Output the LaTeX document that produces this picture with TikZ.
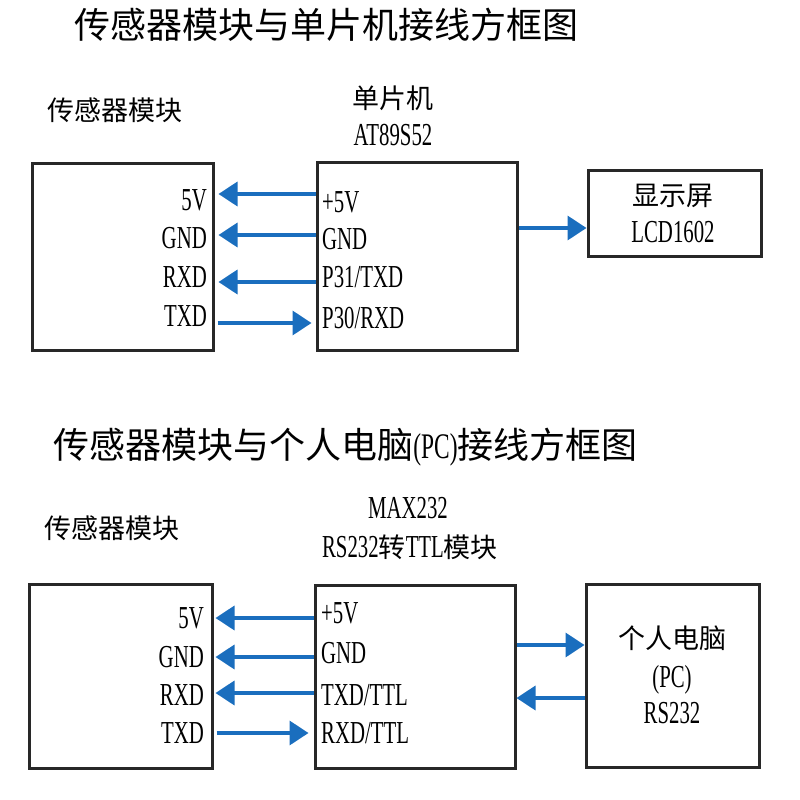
\documentclass[tikz,border=0pt]{standalone}
\usepackage{fontspec}
\setmainfont[FakeStretch=0.65]{Liberation Serif}
\newfontfamily\cjk{Noto Sans CJK SC}
\usetikzlibrary{arrows.meta}
\definecolor{arrblue}{RGB}{26,110,190}
\definecolor{boxgray}{RGB}{40,40,40}
\newcommand\latxt[1]{{\rmfamily\fontsize{32}{32}\selectfont #1}}
\begin{document}
\begin{tikzpicture}[x=1pt,y=-1pt,
  box/.style={draw=boxgray, line width=3pt, inner sep=0pt},
  lat/.style={font=\fontsize{32}{32}\selectfont, inner sep=0pt, text height=21.2pt, text depth=0pt},
  ch/.style={font=\cjk\fontsize{27}{27}\selectfont, inner sep=0pt, text height=23.8pt, text depth=3.2pt},
  ttl/.style={font=\cjk\fontsize{36}{36}\selectfont, inner sep=0pt, text height=31.7pt, text depth=4.3pt},
  arr/.style={draw=arrblue, line width=3.5pt, -{Triangle[length=19pt,width=24pt]}}]
\useasboundingbox (0,0) rectangle (800,800);
\fill[white] (0,0) rectangle (800,800);

% ---------- top diagram ----------
\node[ttl] (t1) at (326.5,25) {传感器模块与单片机接线方框图};
\node[ch] (sl1) at (115,110) {传感器模块};
\node[ch] (mt1) at (393,98) {单片机};
\node[lat] (mt2) at (393,135) {AT89S52};

\node[box, minimum width=181pt, minimum height=187pt] (sen1) at (122.5,256.5) {};
\node[box, minimum width=200pt, minimum height=188pt] (mcu) at (417,256) {};
\node[box, minimum width=173pt, minimum height=86pt] (lcd) at (674.5,213) {};

\node[lat, anchor=east] (s1a) at (207,200) {5V};
\node[lat, anchor=east] (s1b) at (207,238) {GND};
\node[lat, anchor=east] (s1c) at (207,277) {RXD};
\node[lat, anchor=east] (s1d) at (207,316) {TXD};

\node[lat, anchor=west] (m1a) at (322,202) {+5V};
\node[lat, anchor=west] (m1b) at (322,239) {GND};
\node[lat, anchor=west] (m1c) at (322,277) {P31/TXD};
\node[lat, anchor=west] (m1d) at (322,318) {P30/RXD};

\node[ch] (lcdt1) at (673,195) {显示屏};
\node[lat] (lcdt2) at (673,232) {LCD1602};

\coordinate (ya) at (0,194);
\coordinate (yb) at (0,235);
\coordinate (yc) at (0,282);
\coordinate (yd) at (0,323);
\coordinate (ye) at (0,228);

\draw[arr, shorten >=4pt] (mcu.west |- ya) -- (sen1.east |- ya);
\draw[arr, shorten >=4pt] (mcu.west |- yb) -- (sen1.east |- yb);
\draw[arr, shorten >=4pt] (mcu.west |- yc) -- (sen1.east |- yc);
\draw[arr, shorten >=4pt, shorten <=3pt] (sen1.east |- yd) -- (mcu.west |- yd);
\draw[arr] (mcu.east |- ye) -- (lcd.west |- ye);

% ---------- bottom diagram ----------
\node[ttl] (t2) at (345.5,445) {传感器模块与个人电脑{\rmfamily\fontsize{36}{36}\selectfont(PC)}接线方框图};
\node[ch] (sl2) at (112,528) {传感器模块};
\node[lat] (xt1) at (408,508) {MAX232};
\node[ch] (xt2) at (410,547) {\latxt{RS232}转\latxt{TTL}模块};

\node[box, minimum width=183pt, minimum height=184pt] (sen2) at (120.5,676) {};
\node[box, minimum width=200pt, minimum height=183pt] (max) at (415,676.5) {};
\node[box, minimum width=173pt, minimum height=183pt] (pc) at (672.5,675.5) {};

\node[lat, anchor=east] (s2a) at (204,618) {5V};
\node[lat, anchor=east] (s2b) at (204,657) {GND};
\node[lat, anchor=east] (s2c) at (204,695) {RXD};
\node[lat, anchor=east] (s2d) at (204,733) {TXD};

\node[lat, anchor=west] (x2a) at (321,613) {+5V};
\node[lat, anchor=west] (x2b) at (321,653) {GND};
\node[lat, anchor=west] (x2c) at (321,695) {TXD/TTL};
\node[lat, anchor=west] (x2d) at (321,733) {RXD/TTL};

\node[ch] (pct1) at (672,638) {个人电脑};
\node[lat] (pct2) at (672,677) {(PC)};
\node[lat] (pct3) at (672,713) {RS232};

\coordinate (za) at (0,618);
\coordinate (zb) at (0,657);
\coordinate (zc) at (0,693);
\coordinate (zd) at (0,733);
\coordinate (ze) at (0,645);
\coordinate (zf) at (0,698);

\draw[arr, shorten >=2pt] (max.west |- za) -- (sen2.east |- za);
\draw[arr, shorten >=2pt] (max.west |- zb) -- (sen2.east |- zb);
\draw[arr, shorten >=2pt] (max.west |- zc) -- (sen2.east |- zc);
\draw[arr, shorten >=5pt, shorten <=3pt] (sen2.east |- zd) -- (max.west |- zd);
\draw[arr] (max.east |- ze) -- (pc.west |- ze);
\draw[arr] (pc.west |- zf) -- (max.east |- zf);
\end{tikzpicture}
\end{document}
